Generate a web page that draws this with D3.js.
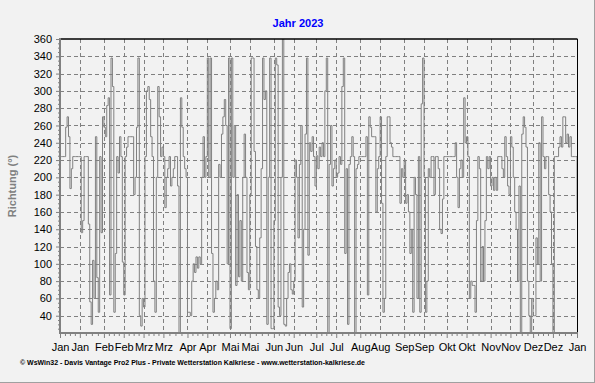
<!DOCTYPE html>
<html><head><meta charset="utf-8">
<script src="https://cdn.jsdelivr.net/npm/d3@7"></script>
<style>
html,body{margin:0;padding:0;background:#f2f2f2;}
svg{display:block;font-family:"Liberation Sans",Arial,sans-serif;}
</style></head>
<body>
<svg id="c" width="595" height="383"></svg>
<script>
// ---- data: daily prevailing wind direction (°), 2023-01-01 ... 2024-01-01
const dirQ1 = [224,224,224,224,258,270,247,187,210,224, 224,224,224,224,224,136,150,224,224,224,
  146,56,30,104,60,247,84,44,224,136, 270,258,247,283,292,64,338,305,44,112,
  224,205,247,224,102,64,224,235,247,247, 247,247,180,200,258,338,40,28,60,50,
  224,300,305,290,247,224,80,44,200,305, 270,224,235,224,165,200,210,224,190,200,
  210,224,224,190,20,292,258,224,210,200, 44,44,40,80,100,90,108,95,108];
const dirQ2 = [100,200,247,200,224,338,200,338,112,44, 60,80,70,215,200,250,270,290,260,100,
  338,25,338,200,260,75,180,85,150,80, 200,250,200,90,70,180,338,338,230,120,
  70,60,130,210,338,290,300,30,200,338, 25,25,150,338,330,50,40,200,360,30,
  28,60,90,100,70,65,80,220,200,130, 215,260,50,140,250,338,110,240,230,247,
  224,190,225,210,235,224,240,224,300,338, 20,215,260,190,210,220,200,205,224];
const dirQ3 = [215,305,338,112,210,30,215,224,247,224, 20,210,215,224,224,224,224,224,247,64,
  270,258,247,247,247,160,210,224,270,170, 44,60,224,270,270,240,235,224,224,224,
  224,224,170,210,200,220,170,180,160,112, 140,44,200,180,60,224,44,285,338,200,
  44,80,210,200,224,224,180,224,224,210, 140,135,175,224,224,224,224,224,224,224,
  224,240,200,165,210,220,200,292,240,247, 224,60,80,75,75,44,150,224,210];
const dirQ4 = [80,120,80,150,224,210,224,190,200,185, 200,185,224,224,224,210,200,247,224,190,
  180,247,235,200,160,140,80,190,20,250, 270,258,235,80,40,20,60,40,40,130,
  100,240,80,270,224,210,224,224,180,160, 100,20,224,224,224,235,247,235,270,270,
  240,250,235,247,224,224,224,224,160];
const monthNames = ["Jan","Feb","Mrz","Apr","Mai","Jun","Jul","Aug","Sep","Okt","Nov","Dez"];
const yTicks = [40,60,80,100,120,140,160,180,200,220,240,260,280,300,320,340,360];
const titleText = "Jahr 2023";
const yTitle = "Richtung  (°)";
const credit = "© WsWin32  -  Davis Vantage Pro2 Plus  -  Private Wetterstation Kalkriese - www.wetterstation-kalkriese.de";

const values = dirQ1.concat(dirQ2, dirQ3, dirQ4);
const start = new Date(Date.UTC(2023,0,1));
const data = values.map((v,i)=>({date:d3.utcDay.offset(start,i), v}));

const L=60, R=577, T=39, B=333;
const svg = d3.select("#c");
svg.append("rect").attr("x",0).attr("y",0).attr("width",595).attr("height",383).attr("fill","#f2f2f2");
svg.append("line").attr("x1",594.5).attr("x2",594.5).attr("y1",0).attr("y2",383).attr("stroke","#a0a0a0");
svg.append("line").attr("x1",0).attr("x2",595).attr("y1",382.5).attr("y2",382.5).attr("stroke","#a0a0a0");

const x = d3.scaleUtc().domain([start, new Date(Date.UTC(2024,0,1))]).range([L,R]);
const y = d3.scaleLinear().domain([20,360]).range([B,T]);

const majors = [];
for(let m=0;m<12;m++){ majors.push(new Date(Date.UTC(2023,m,1))); majors.push(new Date(Date.UTC(2023,m,15))); }
majors.push(new Date(Date.UTC(2024,0,1)));
const minors = [];
for(let i=0;i<majors.length-1;i++){
  const a=+majors[i], b=+majors[i+1];
  for(let k=1;k<4;k++) minors.push(new Date(a+(b-a)*k/4));
}

const grid = svg.append("g").attr("stroke","#808080").attr("stroke-dasharray","4,3").attr("stroke-width",1);
yTicks.filter(t=>t<360).forEach(t=>{
  grid.append("line").attr("x1",L).attr("x2",R).attr("y1",Math.round(y(t))+0.5).attr("y2",Math.round(y(t))+0.5);
});
majors.slice(1,-1).forEach(d=>{
  grid.append("line").attr("y1",T).attr("y2",B).attr("x1",Math.round(x(d))+0.5).attr("x2",Math.round(x(d))+0.5);
});

svg.append("clipPath").attr("id","pc").append("rect").attr("x",L).attr("y",T).attr("width",R-L).attr("height",B-T);
const line = d3.line().x(d=>x(d.date)).y(d=>y(d.v)).curve(d3.curveStepAfter);
svg.append("path").datum(data).attr("clip-path","url(#pc)")
  .attr("fill","none").attr("stroke","#808080").attr("stroke-width",1).attr("d",line);

svg.append("line").attr("x1",L).attr("x2",R+0.5).attr("y1",T).attr("y2",T).attr("stroke","#000").attr("stroke-width",1.5);
svg.append("line").attr("x1",R+0.5).attr("x2",R+0.5).attr("y1",T).attr("y2",B).attr("stroke","#000").attr("stroke-width",1);

const yAx = svg.append("g").attr("transform",`translate(${L},0)`)
  .call(d3.axisLeft(y).tickValues(yTicks).tickSize(4).tickPadding(4).tickFormat(d3.format("d")));
const yMinor = svg.append("g").attr("transform",`translate(${L},0)`)
  .call(d3.axisLeft(y).tickValues(d3.range(20,361,5).filter(v=>v%20!==0)).tickSize(2).tickFormat(""));
[yAx,yMinor].forEach(g=>{ g.select(".domain").remove(); g.selectAll("line").attr("stroke","#808080"); });
yAx.selectAll("text").attr("font-size",11).attr("fill","#000").attr("font-family","Liberation Sans, Arial, sans-serif");

const xAx = svg.append("g").attr("transform",`translate(0,${B})`)
  .call(d3.axisBottom(x).tickValues(majors).tickSize(5).tickPadding(5).tickFormat(d=>monthNames[d.getUTCMonth()]));
const xMinor = svg.append("g").attr("transform",`translate(0,${B})`)
  .call(d3.axisBottom(x).tickValues(minors).tickSize(3).tickFormat(""));
[xAx,xMinor].forEach(g=>{ g.select(".domain").remove(); g.selectAll("line").attr("stroke","#808080"); });
xAx.selectAll("text").attr("font-size",11).attr("fill","#000").attr("font-family","Liberation Sans, Arial, sans-serif");

svg.append("line").attr("x1",L).attr("x2",L).attr("y1",T-1).attr("y2",B+1).attr("stroke","#808080").attr("stroke-width",2);
svg.append("line").attr("x1",L-1).attr("x2",R+1).attr("y1",B).attr("y2",B).attr("stroke","#808080").attr("stroke-width",2);

svg.append("text").attr("x",298).attr("y",27).attr("text-anchor","middle")
  .attr("font-size",11).attr("font-weight","bold").attr("fill","#0000ff").text(titleText);
svg.append("text").attr("transform","translate(16,186) rotate(-90)").attr("text-anchor","middle")
  .attr("font-size",11).attr("font-weight","bold").attr("fill","#808080").text(yTitle);
svg.append("text").attr("x",20).attr("y",365).attr("font-size",6.5).attr("font-weight","bold")
  .attr("fill","#000").attr("textLength",345).attr("lengthAdjust","spacingAndGlyphs").text(credit);
</script>
</body></html>
